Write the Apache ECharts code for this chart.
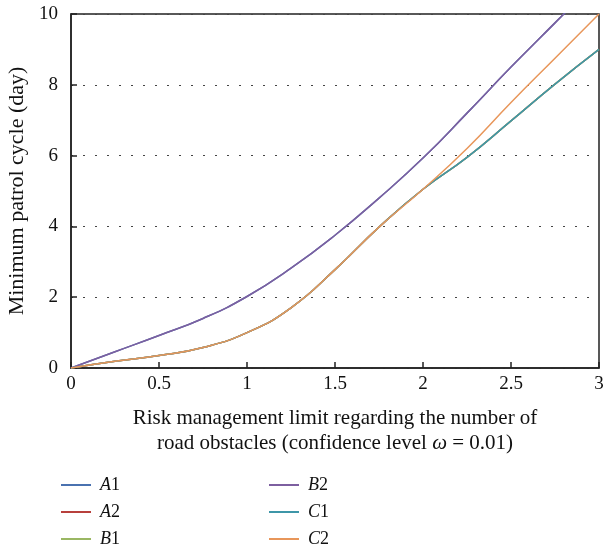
<!DOCTYPE html>
<html><head><meta charset="utf-8">
<script src="https://cdn.jsdelivr.net/npm/echarts@6/dist/echarts.min.js"></script>
<style>html,body{margin:0;padding:0;background:#fff}#c{width:603px;height:548px}</style>
</head><body><div id="c"></div>
<script>
const xValues = [0, 0.25, 0.5, 0.75, 1.0, 1.25, 1.5, 1.75, 2.0, 2.25, 2.5, 2.75, 3.0];
const A1 = [0, 0.46, 0.92, 1.4, 2.02, 2.82, 3.75, 4.8, 5.93, 7.2, 8.5, 9.75, 11.0];
const A2 = [0, 0.19, 0.35, 0.58, 1.0, 1.7, 2.78, 3.98, 5.05, 5.95, 6.98, 8.02, 9.0];
const B1 = [0, 0.19, 0.35, 0.58, 1.0, 1.7, 2.78, 3.98, 5.05, 5.95, 6.98, 8.02, 9.0];
const B2 = [0, 0.46, 0.92, 1.4, 2.02, 2.82, 3.75, 4.8, 5.93, 7.2, 8.5, 9.75, 11.0];
const C1 = [0, 0.19, 0.35, 0.58, 1.0, 1.7, 2.78, 3.98, 5.05, 5.95, 6.98, 8.02, 9.0];
const C2 = [0, 0.19, 0.35, 0.58, 1.0, 1.7, 2.78, 3.98, 5.05, 6.2, 7.5, 8.75, 10.0];
const seriesNames = ['A1', 'A2', 'B1', 'B2', 'C1', 'C2'];
const seriesData = [A1, A2, B1, B2, C1, C2];
const colors = ['#4a72b0', '#b8403c', '#9ab763', '#7d5fa0', '#3e96a8', '#e8965a'];

const font = 'Liberation Serif';
const chart = echarts.init(document.getElementById('c'));
const legendCommon = {
  orient: 'vertical', icon: 'rect', itemWidth: 30, itemHeight: 2, itemGap: 9, height: 120, padding: 0,
  textStyle: { fontFamily: font, fontSize: 18, lineHeight: 18, color: '#111', padding: [0, 0, 0, 4],
    rich: { i: { fontFamily: font, fontSize: 18, lineHeight: 18, fontStyle: 'italic', color: '#111' } } },
  formatter: n => '{i|' + n[0] + '}' + n.slice(1)
};
chart.setOption({
  animation: false,
  color: colors,
  grid: { left: 71, right: 4, top: 14, height: 354, show: true, borderColor: '#222', borderWidth: 1.5,
    outerBoundsMode: 'none', containLabel: false },
  legend: [
    Object.assign({ left: 61, top: 476, data: ['A1', 'A2', 'B1'] }, legendCommon),
    Object.assign({ left: 269, top: 476, data: ['B2', 'C1', 'C2'] }, legendCommon)
  ],
  xAxis: {
    type: 'value', min: 0, max: 3, interval: 0.5,
    name: 'Risk management limit regarding the number of\nroad obstacles (confidence level {i|ω} = 0.01)',
    nameLocation: 'middle', nameGap: 38,
    nameTextStyle: { fontFamily: font, fontSize: 21, color: '#111', lineHeight: 25,
      rich: { i: { fontFamily: font, fontSize: 21, fontStyle: 'italic', color: '#111', lineHeight: 25 } } },
    axisLine: { lineStyle: { color: '#222', width: 1.5 } },
    axisTick: { inside: true, length: 6, lineStyle: { color: '#222', width: 1.5 } },
    axisLabel: { fontFamily: font, fontSize: 19, color: '#111', margin: 7 },
    splitLine: { show: false }
  },
  yAxis: {
    type: 'value', min: 0, max: 10, interval: 2,
    name: 'Minimum patrol cycle (day)', nameLocation: 'middle', nameGap: 42,
    nameTextStyle: { fontFamily: font, fontSize: 22, color: '#111' },
    axisLine: { lineStyle: { color: '#222', width: 1.5 } },
    axisTick: { inside: true, length: 6, lineStyle: { color: '#222', width: 1.5 } },
    axisLabel: { fontFamily: font, fontSize: 19, color: '#111', margin: 13 },
    splitLine: { show: true, lineStyle: { color: '#444', type: [2, 10], width: 1.2 } }
  },
  series: seriesNames.map((n, k) => ({
    name: n, type: 'line', showSymbol: false, symbol: 'none', smooth: 0.5,
    data: xValues.map((x, i) => [x, seriesData[k][i]]),
    lineStyle: { width: 1.5, color: colors[k] }, itemStyle: { color: colors[k] }, clip: true
  }))
});
</script></body></html>
